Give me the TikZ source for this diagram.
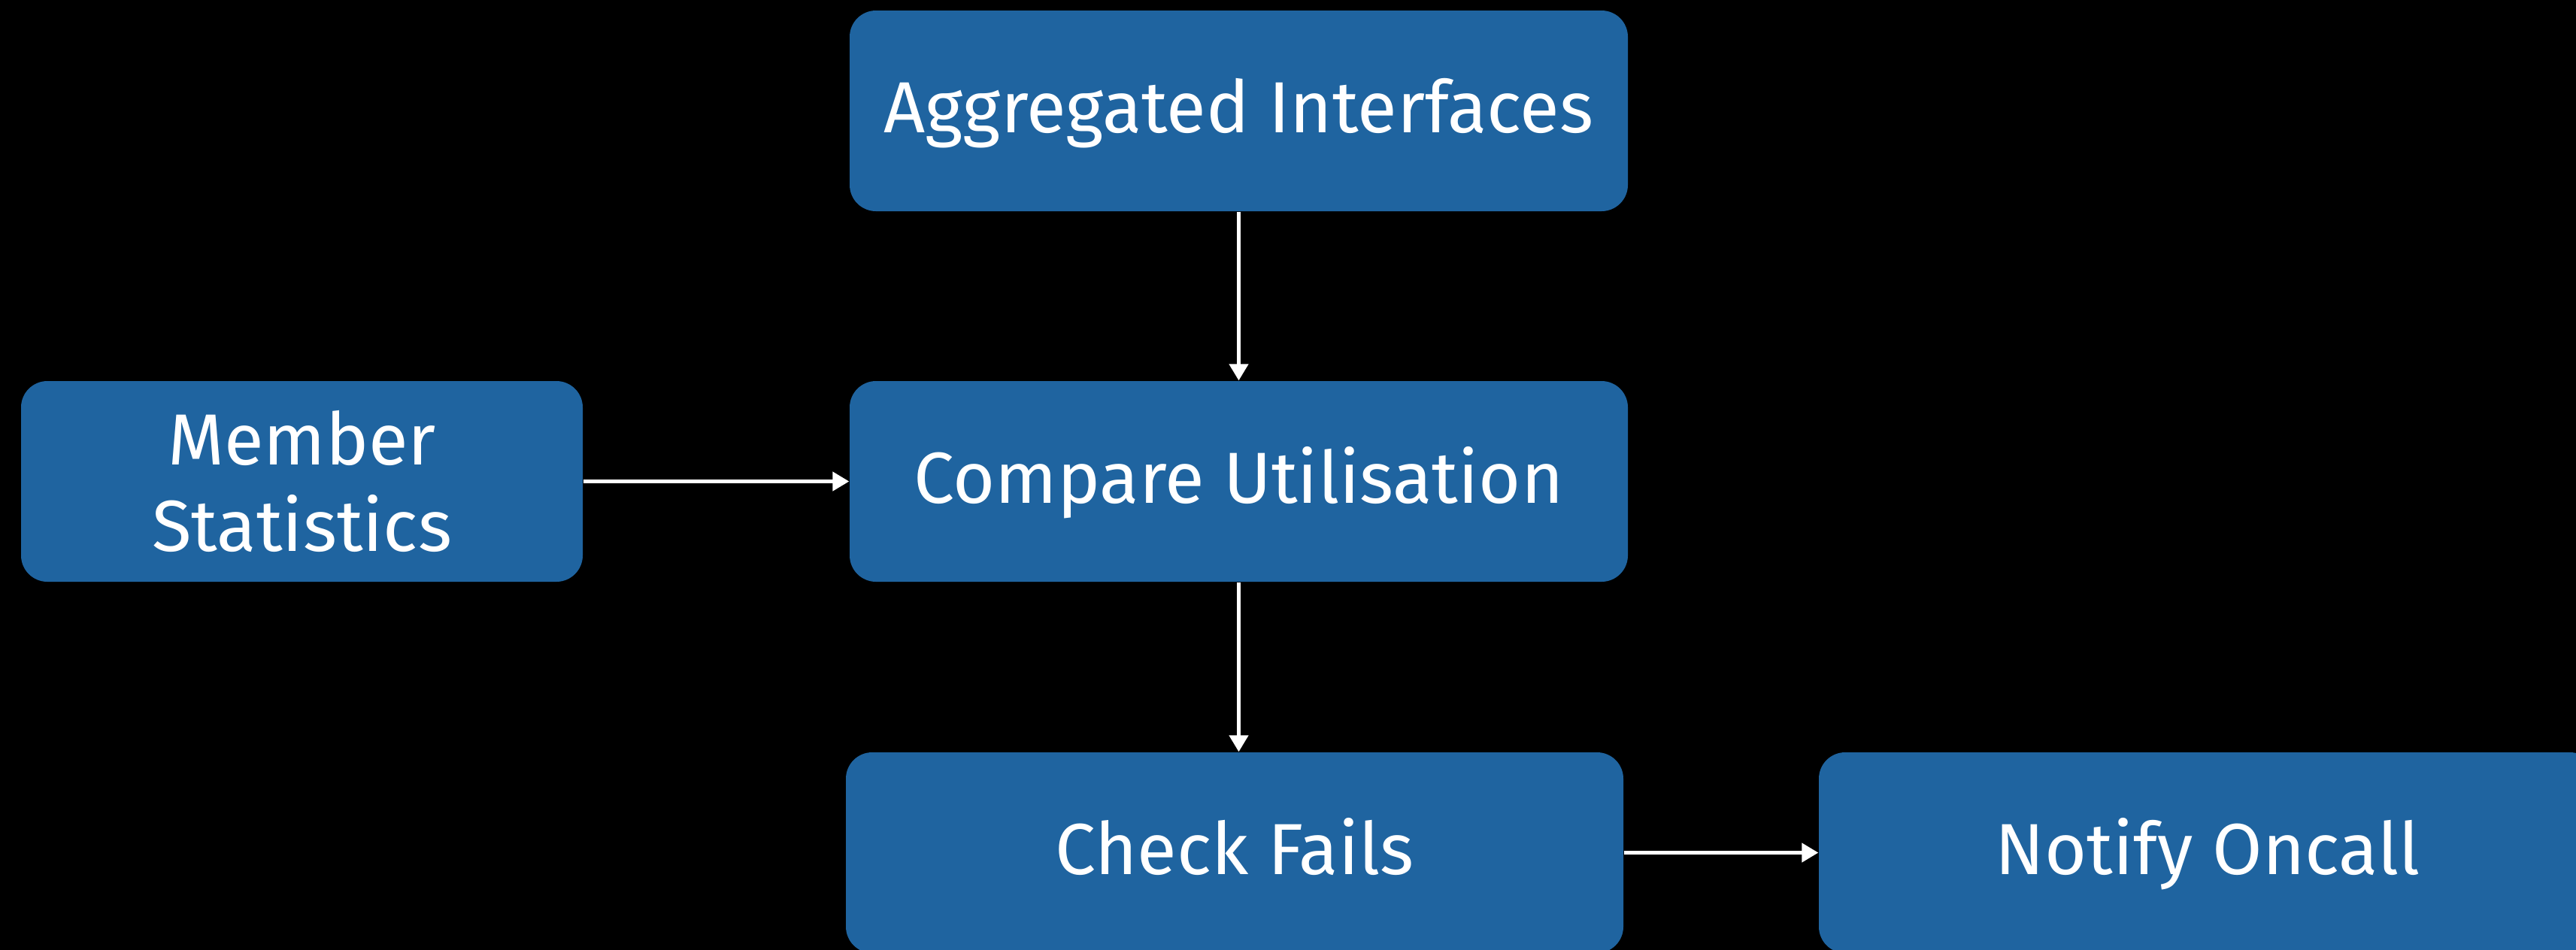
\documentclass[tikz,border=0pt]{standalone}
\usepackage{fontspec}
\setmainfont{Fira Sans}
\usetikzlibrary{arrows.meta}
\definecolor{boxblue}{RGB}{31,100,160}
\tikzset{
  stepbox/.style={fill=boxblue, rounded corners=0.35cm, minimum height=2.67cm,
    inner sep=0pt, text=white, align=center,
    font=\fontsize{27.4}{32.9}\selectfont},
  oneline/.style={stepbox, text height=0.6cm, text depth=0.02cm},
  flow/.style={draw=white, line width=1.3pt, -{Triangle[length=0.22cm,width=0.25cm]}}
}
\begin{document}
\begin{tikzpicture}
  % page size, then a black ground that runs past its edges
  \useasboundingbox (0,0) rectangle (34.26,-12.63);
  \fill[black] (-0.5,0.5) rectangle (34.8,-13.2);

  \node[oneline, minimum width=10.35cm] (agg) at (16.475,-1.475) {Aggregated Interfaces};
  \node[stepbox, minimum width=7.47cm] (mem) at (4.015,-6.405) {Member\\Statistics};
  \node[oneline, minimum width=10.35cm] (cmp) at (16.475,-6.405) {Compare Utilisation};
  \node[oneline, minimum width=10.34cm] (chk) at (16.42,-11.345) {Check Fails};
  \node[oneline, minimum width=10.34cm] (ntf) at (29.36,-11.345) {Notify Oncall};

  \draw[flow] (agg.south) -- (cmp.north);
  \draw[flow] (mem.east) -- (cmp.west);
  \draw[flow] (cmp.south) -- (cmp.south |- chk.north);
  \draw[flow] (chk.east) -- (ntf.west);
\end{tikzpicture}
\end{document}
